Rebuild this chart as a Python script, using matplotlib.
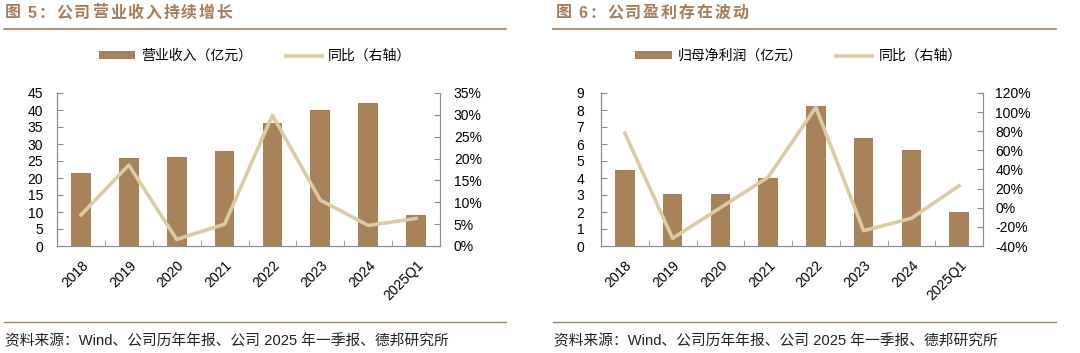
import matplotlib
matplotlib.use("Agg")
import matplotlib.pyplot as plt
from matplotlib.lines import Line2D
from matplotlib.patches import Patch
from matplotlib.ticker import FuncFormatter, MultipleLocator
from matplotlib.transforms import ScaledTranslation
import numpy as np

plt.rcParams['font.family'] = ['Liberation Sans', 'Noto Sans CJK SC']

categories = ['2018', '2019', '2020', '2021', '2022', '2023', '2024', '2025Q1']
revenue = [21.6, 26.0, 26.3, 27.8, 36.2, 39.9, 42.0, 9.2]
revenue_yoy = [7.1, 18.5, 1.5, 5.0, 29.9, 10.5, 4.7, 6.3]
profit = [4.48, 3.03, 3.08, 4.01, 8.25, 6.35, 5.66, 2.02]
profit_yoy = [78, -32, 0, 32, 105, -24, -11, 23]

title_left = '图 5：公司营业收入持续增长'
title_right = '图 6：公司盈利存在波动'
legend_left = ['营业收入（亿元）', '同比（右轴）']
legend_right = ['归母净利润（亿元）', '同比（右轴）']
source = '资料来源：Wind、公司历年年报、公司 2025 年一季报、德邦研究所'

BAR = '#A7825A'
LINE = '#DACBA2'
BROWN = '#A67C5B'
SPINE = '#8C8C8C'
FS = 10
FAM = ['Liberation Sans', 'Noto Sans CJK SC']

fig = plt.figure(figsize=(10.8, 3.53), dpi=100)
W, H = 1080, 353
renderer = fig.canvas.get_renderer()


def spaced_title(x_px, y_px, s, extra_px):
    x = x_px
    for ch in s:
        if ch == ' ':
            x += 5
            continue
        t = fig.text(x / W, 1 - y_px / H, ch, color=BROWN, fontsize=11.5,
                     fontweight='bold', ha='left', va='center', family=FAM)
        bb = t.get_window_extent(renderer=renderer)
        x += bb.width + extra_px


def panel(x0, x1, bars, yoy, ymax, ystep, rlim, rstep, leg, title, title_x, hline, lpad, rpad):
    ax = fig.add_axes([x0 / W, 1 - 246 / H, (x1 - x0) / W, 153 / H])
    x = np.arange(len(categories))
    ax.bar(x, bars, width=0.41, color=BAR, zorder=2)
    ax.set_xlim(-0.5, len(categories) - 0.5)
    ax.set_ylim(0, ymax)
    ax.yaxis.set_major_locator(MultipleLocator(ystep))
    ax.set_xticks(x)
    ax.set_xticklabels(categories, rotation=45, ha='right', va='top',
                       rotation_mode='anchor', fontsize=FS)
    off = ScaledTranslation(-6 / 100, -3 / 100, fig.dpi_scale_trans)
    for lab in ax.get_xticklabels():
        lab.set_transform(lab.get_transform() + off)
    ax.set_xticks(np.arange(-0.5, len(categories)), minor=True)
    ax.tick_params(axis='x', which='major', length=0, pad=9)
    ax.tick_params(axis='x', which='minor', length=4, direction='in', color=SPINE)
    ax.tick_params(axis='y', length=4, direction='in', color=SPINE, labelsize=FS, pad=lpad)
    ax2 = ax.twinx()
    ax2.plot(x, yoy, color=LINE, lw=2.6, zorder=3)
    ax2.set_ylim(*rlim)
    ax2.yaxis.set_major_locator(MultipleLocator(rstep))
    ax2.yaxis.set_major_formatter(FuncFormatter(lambda v, p: f'{v:.0f}%'))
    ax2.tick_params(axis='y', length=4, direction='in', color=SPINE, labelsize=FS, pad=rpad)
    for a in (ax, ax2):
        a.spines['top'].set_visible(False)
        for s in ('left', 'right', 'bottom'):
            a.spines[s].set_color(SPINE)
            a.spines[s].set_linewidth(0.8)
    handles = [Patch(facecolor=BAR, edgecolor='none'),
               Line2D([0], [0], color=LINE, lw=2.6)]
    fig.legend(handles, leg, loc='center', ncol=2, frameon=False,
               bbox_to_anchor=((x0 + x1) / 2 / W + 0.006, 1 - 56 / H),
               handlelength=2.6, handleheight=0.5,
               columnspacing=2.4, handletextpad=0.45,
               prop={'family': FAM, 'size': FS})
    spaced_title(title_x, 13, title, 1.8)
    fig.add_artist(Line2D([hline[0] / W, hline[1] / W], [1 - 29 / H] * 2,
                          color=BROWN, lw=1.2))
    fig.add_artist(Line2D([hline[0] / W, hline[1] / W], [1 - 322 / H] * 2,
                          color=BROWN, lw=1.0))
    fig.text(hline[0] / W + 1 / W, 1 - 341 / H, source, color='#222222', fontsize=10.6,
             ha='left', va='center', family=FAM)
    return ax, ax2


panel(57, 440, revenue, revenue_yoy, 45, 5, (0, 35), 5, legend_left, title_left, 5, (4, 506), 10, 10)
panel(601, 983, profit, profit_yoy, 9, 1, (-40, 120), 20, legend_right, title_right, 556, (553, 1056), 12, 9)

fig.savefig('out.png', dpi=100)
